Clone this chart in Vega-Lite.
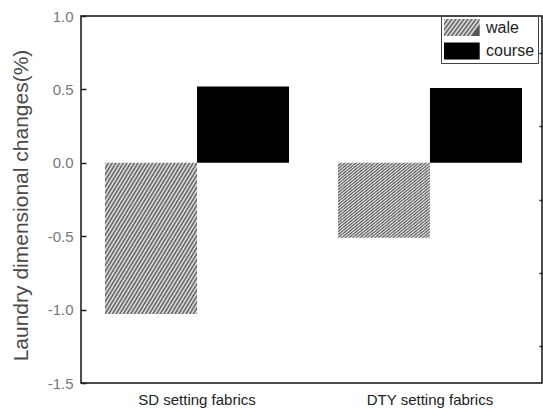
{
  "$schema": "https://vega.github.io/schema/vega-lite/v6.json",
  "width": 461,
  "height": 367,
  "autosize": {"type": "none"},
  "padding": {"left": 81, "top": 16, "right": 1, "bottom": 31},
  "background": "white",
  "config": {"view": {"stroke": "#111111", "strokeWidth": 1.5}, "font": "Liberation Sans"},
  "data": {"values": [
    {"fabric": "SD setting fabrics", "series": "wale", "value": -1.03},
    {"fabric": "SD setting fabrics", "series": "course", "value": 0.52},
    {"fabric": "DTY setting fabrics", "series": "wale", "value": -0.51},
    {"fabric": "DTY setting fabrics", "series": "course", "value": 0.51}
  ]},
  "encoding": {
    "x": {"field": "fabric", "type": "nominal", "sort": ["SD setting fabrics", "DTY setting fabrics"],
      "scale": {"paddingInner": 0.21, "paddingOuter": 0.0944, "align": 0.545},
      "axis": {"title": null, "labelAngle": 0, "ticks": false, "domain": false, "labelFontSize": 15, "labelColor": "#222222", "labelPadding": 9}},
    "xOffset": {"field": "series", "type": "nominal", "scale": {"domain": ["wale", "course"], "paddingInner": 0, "paddingOuter": 0}},
    "y": {"field": "value", "type": "quantitative", "scale": {"domain": [-1.5, 1], "nice": false, "zero": false}}
  },
  "layer": [
    {
      "mark": {"type": "bar", "fill": {"expr": "datum.value === 'wale' ? {'gradient': 'linear', 'x1': 0, 'y1': 0, 'x2': 1, 'y2': 0.35, 'stops': [{'offset': 0, 'color': '#555'}, {'offset': 0.05, 'color': '#eee'}, {'offset': 0.1, 'color': '#555'}, {'offset': 0.15, 'color': '#eee'}, {'offset': 0.2, 'color': '#555'}, {'offset': 0.25, 'color': '#eee'}, {'offset': 0.3, 'color': '#555'}, {'offset': 0.35, 'color': '#eee'}, {'offset': 0.4, 'color': '#555'}, {'offset': 0.45, 'color': '#eee'}, {'offset': 0.5, 'color': '#555'}, {'offset': 0.55, 'color': '#eee'}, {'offset': 0.6, 'color': '#555'}, {'offset': 0.65, 'color': '#eee'}, {'offset': 0.7, 'color': '#555'}, {'offset': 0.75, 'color': '#eee'}, {'offset': 0.8, 'color': '#555'}, {'offset': 0.85, 'color': '#eee'}, {'offset': 0.9, 'color': '#555'}, {'offset': 0.95, 'color': '#eee'}, {'offset': 1, 'color': '#555'}]} : datum.series === 'wale' ? {'gradient': 'linear', 'x1': 0, 'y1': 0, 'x2': 1, 'y2': 1, 'stops': [{'offset': 0, 'color': '#555'}, {'offset': 0.01, 'color': '#eee'}, {'offset': 0.02, 'color': '#555'}, {'offset': 0.03, 'color': '#eee'}, {'offset': 0.04, 'color': '#555'}, {'offset': 0.05, 'color': '#eee'}, {'offset': 0.06, 'color': '#555'}, {'offset': 0.07, 'color': '#eee'}, {'offset': 0.08, 'color': '#555'}, {'offset': 0.09, 'color': '#eee'}, {'offset': 0.1, 'color': '#555'}, {'offset': 0.11, 'color': '#eee'}, {'offset': 0.12, 'color': '#555'}, {'offset': 0.13, 'color': '#eee'}, {'offset': 0.14, 'color': '#555'}, {'offset': 0.15, 'color': '#eee'}, {'offset': 0.16, 'color': '#555'}, {'offset': 0.17, 'color': '#eee'}, {'offset': 0.18, 'color': '#555'}, {'offset': 0.19, 'color': '#eee'}, {'offset': 0.2, 'color': '#555'}, {'offset': 0.21, 'color': '#eee'}, {'offset': 0.22, 'color': '#555'}, {'offset': 0.23, 'color': '#eee'}, {'offset': 0.24, 'color': '#555'}, {'offset': 0.25, 'color': '#eee'}, {'offset': 0.26, 'color': '#555'}, {'offset': 0.27, 'color': '#eee'}, {'offset': 0.28, 'color': '#555'}, {'offset': 0.29, 'color': '#eee'}, {'offset': 0.3, 'color': '#555'}, {'offset': 0.31, 'color': '#eee'}, {'offset': 0.32, 'color': '#555'}, {'offset': 0.33, 'color': '#eee'}, {'offset': 0.34, 'color': '#555'}, {'offset': 0.35, 'color': '#eee'}, {'offset': 0.36, 'color': '#555'}, {'offset': 0.37, 'color': '#eee'}, {'offset': 0.38, 'color': '#555'}, {'offset': 0.39, 'color': '#eee'}, {'offset': 0.4, 'color': '#555'}, {'offset': 0.41, 'color': '#eee'}, {'offset': 0.42, 'color': '#555'}, {'offset': 0.43, 'color': '#eee'}, {'offset': 0.44, 'color': '#555'}, {'offset': 0.45, 'color': '#eee'}, {'offset': 0.46, 'color': '#555'}, {'offset': 0.47, 'color': '#eee'}, {'offset': 0.48, 'color': '#555'}, {'offset': 0.49, 'color': '#eee'}, {'offset': 0.5, 'color': '#555'}, {'offset': 0.51, 'color': '#eee'}, {'offset': 0.52, 'color': '#555'}, {'offset': 0.53, 'color': '#eee'}, {'offset': 0.54, 'color': '#555'}, {'offset': 0.55, 'color': '#eee'}, {'offset': 0.56, 'color': '#555'}, {'offset': 0.57, 'color': '#eee'}, {'offset': 0.58, 'color': '#555'}, {'offset': 0.59, 'color': '#eee'}, {'offset': 0.6, 'color': '#555'}, {'offset': 0.61, 'color': '#eee'}, {'offset': 0.62, 'color': '#555'}, {'offset': 0.63, 'color': '#eee'}, {'offset': 0.64, 'color': '#555'}, {'offset': 0.65, 'color': '#eee'}, {'offset': 0.66, 'color': '#555'}, {'offset': 0.67, 'color': '#eee'}, {'offset': 0.68, 'color': '#555'}, {'offset': 0.69, 'color': '#eee'}, {'offset': 0.7, 'color': '#555'}, {'offset': 0.71, 'color': '#eee'}, {'offset': 0.72, 'color': '#555'}, {'offset': 0.73, 'color': '#eee'}, {'offset': 0.74, 'color': '#555'}, {'offset': 0.75, 'color': '#eee'}, {'offset': 0.76, 'color': '#555'}, {'offset': 0.77, 'color': '#eee'}, {'offset': 0.78, 'color': '#555'}, {'offset': 0.79, 'color': '#eee'}, {'offset': 0.8, 'color': '#555'}, {'offset': 0.81, 'color': '#eee'}, {'offset': 0.82, 'color': '#555'}, {'offset': 0.83, 'color': '#eee'}, {'offset': 0.84, 'color': '#555'}, {'offset': 0.85, 'color': '#eee'}, {'offset': 0.86, 'color': '#555'}, {'offset': 0.87, 'color': '#eee'}, {'offset': 0.88, 'color': '#555'}, {'offset': 0.89, 'color': '#eee'}, {'offset': 0.9, 'color': '#555'}, {'offset': 0.91, 'color': '#eee'}, {'offset': 0.92, 'color': '#555'}, {'offset': 0.93, 'color': '#eee'}, {'offset': 0.94, 'color': '#555'}, {'offset': 0.95, 'color': '#eee'}, {'offset': 0.96, 'color': '#555'}, {'offset': 0.97, 'color': '#eee'}, {'offset': 0.98, 'color': '#555'}, {'offset': 0.99, 'color': '#eee'}, {'offset': 1, 'color': '#555'}]} : '#000000'"}},
      "encoding": {
        "y": {"field": "value", "type": "quantitative", "scale": {"domain": [-1.5, 1], "nice": false, "zero": false},
          "axis": {"values": [-1.5, -1, -0.5, 0, 0.5, 1], "labelExpr": "replace(format(datum.value, '.1f'), '\u2212', '-')", "tickSize": -5, "tickColor": "#222222", "tickWidth": 1.5, "domain": false, "grid": false, "labelFontSize": 15, "labelColor": "#777777", "labelPadding": 13, "title": "Laundry dimensional changes(%)", "titleFontSize": 21, "titleFontWeight": "normal", "titleColor": "#4a4a4a", "titlePadding": 16, "titleY": 189}},
        "opacity": {"field": "series", "type": "nominal", "scale": {"domain": ["wale", "course"], "range": [1, 1]},
          "legend": {"title": null, "orient": "none", "legendX": 360, "legendY": 0, "strokeColor": "#444444", "fillColor": "white", "padding": 3,
            "symbolType": "M-1,-1H3.2V1H-1Z", "symbolSize": 289, "symbolStrokeWidth": 0, "symbolOpacity": 1, "labelFontSize": 16, "labelColor": "#222222", "labelOffset": 25, "rowPadding": 6.5}}
      }
    },
    {
      "mark": {"type": "point", "opacity": 0},
      "encoding": {
        "y": {"field": "value", "type": "quantitative", "scale": {"domain": [-1.5, 1], "nice": false, "zero": false},
          "axis": {"values": [-1.25, -0.75, -0.25, 0.25, 0.75], "labels": false, "tickSize": -3, "tickColor": "#222222", "tickWidth": 1.5, "domain": false, "grid": false, "title": null}}
      }
    }
  ],
  "resolve": {"axis": {"y": "independent"}}
}
